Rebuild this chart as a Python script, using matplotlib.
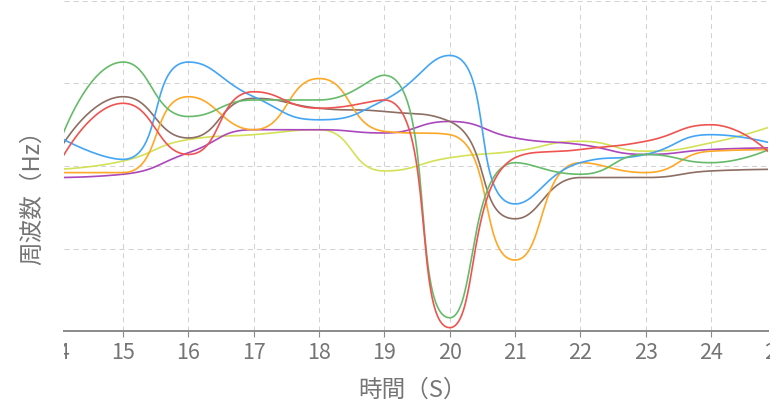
import numpy as np
import matplotlib.pyplot as plt
from matplotlib import transforms
from matplotlib.patches import Rectangle

plt.rcParams['font.family'] = ['Noto Sans CJK JP', 'DejaVu Sans']
plt.rcParams['lines.scale_dashes'] = False

# time axis (seconds) and one frequency trace per channel
hours = [14, 15, 16, 17, 18, 19, 20, 21, 22, 23, 24, 25]
blue = [118, 104, 163, 142, 128, 140, 167, 77, 102, 107, 119, 113]
green = [111, 163, 130, 140, 140, 155, 8, 102, 95, 107, 102, 112]
red = [100, 138, 107, 145, 135, 140, 2, 105, 110, 115, 125, 104]
orange = [96, 96, 142, 122, 153, 121, 119, 43, 102, 96, 109, 110]
brown = [108, 142, 117, 141, 135, 133, 127, 68, 93, 93, 97, 98]
purple = [93, 95, 108, 122, 122, 120, 127, 117, 113, 107, 110, 111]
lime = [98, 103, 116, 119, 122, 97, 105, 109, 115, 109, 114, 125]

series = [(lime, '#D4E157'),
          (purple, '#AB47BC'),
          (brown, '#8D6E63'),
          (orange, '#FFA726'),
          (blue, '#42A5F5'),
          (green, '#66BB6A'),
          (red, '#EF5350')]

y_grid = [0, 50, 100, 150, 200]

TEXT = '#757575'
AXIS = '#8a8a8a'
GRID = '#d2d2d2'


def smooth_curve(pts, smooth=0.5, steps=40):
    """Bezier smoothing with control points clamped between neighbours."""
    out = [pts[0]]
    cp0 = pts[0].copy()
    n = len(pts)
    t = np.linspace(0, 1, steps)[1:, None]
    for k in range(1, n):
        prev, cur = pts[k - 1], pts[k]
        if k + 1 >= n:
            cp1 = cur.copy()
            next_cp0 = cur.copy()
        else:
            nxt = pts[k + 1]
            v = nxt - prev
            len_prev = np.hypot(*(cur - prev))
            len_next = np.hypot(*(nxt - cur))
            ratio = len_next / (len_next + len_prev)
            next_cp0 = cur + v * smooth * ratio
            next_cp0 = np.minimum(next_cp0, np.maximum(nxt, cur))
            next_cp0 = np.maximum(next_cp0, np.minimum(nxt, cur))
            v = next_cp0 - cur
            cp1 = cur - v * len_prev / len_next
            cp1 = np.minimum(cp1, np.maximum(prev, cur))
            cp1 = np.maximum(cp1, np.minimum(prev, cur))
            v = cur - cp1
            next_cp0 = cur + v * len_next / len_prev
        seg = ((1 - t) ** 3 * prev + 3 * (1 - t) ** 2 * t * cp0
               + 3 * (1 - t) * t ** 2 * cp1 + t ** 3 * cur)
        out.extend(seg)
        cp0 = next_cp0
    return np.array(out)


fig = plt.figure(figsize=(7.78, 4.08), dpi=100)
ax = fig.add_axes([64 / 778, 77 / 408, 704 / 778, 330 / 408])

ax.set_yticks([])
ax.set_xticks(hours)
ax.set_xticklabels([])
ax.tick_params(axis='x', direction='out', length=4.5, width=0.8, color=AXIS)

# dashed grid
for h in hours:
    ax.axvline(h, color=GRID, linewidth=0.75, dashes=(3.6, 3.0), zorder=1)
for g in y_grid[1:]:
    ax.axhline(g, color=GRID, linewidth=0.75, dashes=(3.6, 3.0), zorder=1)

# the view only shows part of the time range
ax.set_xlim(14.097, 24.872)
ax.set_ylim(y_grid[0], y_grid[-1])

# smoothed traces, computed in display space
for values, color in series:
    disp = ax.transData.transform(np.column_stack([hours, values]))
    curve = ax.transData.inverted().transform(smooth_curve(disp))
    ax.plot(curve[:, 0], curve[:, 1],
            color=color,
            linewidth=1.2,
            solid_capstyle='round',
            zorder=3)

ax.set_xlim(14.097, 24.872)
ax.set_ylim(y_grid[0], y_grid[-1])

for side in ['left', 'right', 'top']:
    ax.spines[side].set_visible(False)
ax.spines['bottom'].set_color(AXIS)
ax.spines['bottom'].set_linewidth(1.4)
ax.spines['bottom'].set_zorder(4)

# tick labels, clipped to the plot width
clip_rect = Rectangle((64 / 778, 0), 706 / 778, 1, transform=fig.transFigure)
label_trans = transforms.offset_copy(ax.get_xaxis_transform(), fig=fig,
                                     y=-28, units='dots')
for h in hours:
    t = ax.text(h, 0, str(h), transform=label_trans,
                ha='center', va='baseline',
                fontsize=15.5, color=TEXT, clip_on=True)
    t.set_clip_path(clip_rect)

fig.text(412 / 778, 11 / 408, '時間（S）',
         ha='center', va='baseline', fontsize=17, color=TEXT)
fig.text(32 / 778, 1 - 192 / 408, '周波数（Hz）',
         ha='center', va='center', rotation=90, fontsize=17, color=TEXT)

fig.savefig('out.png', dpi=100)
